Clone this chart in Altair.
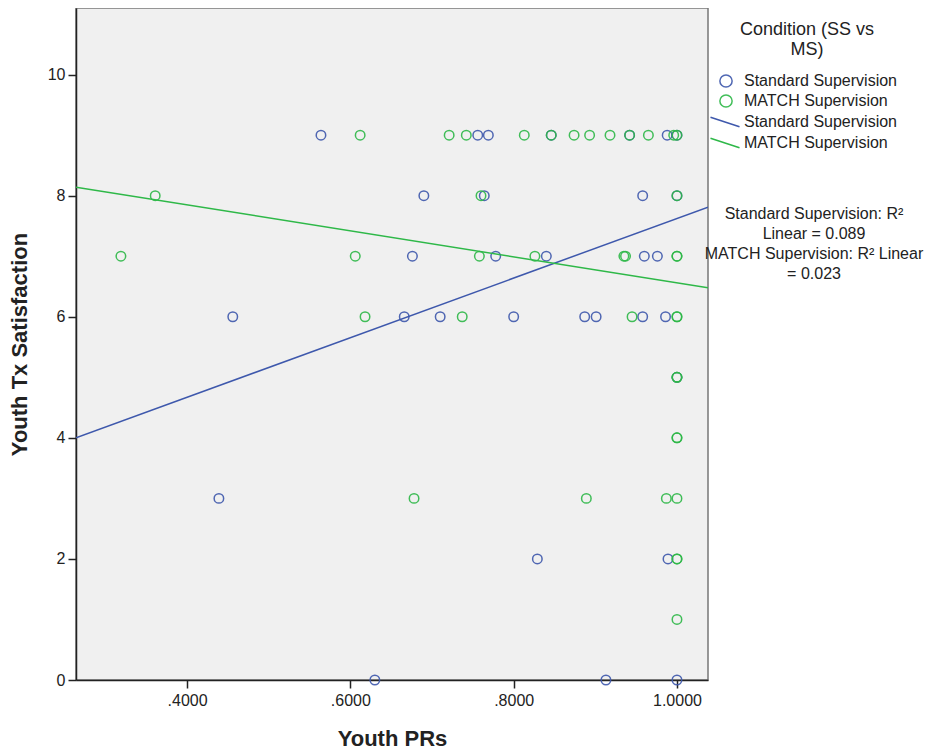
import altair as alt
import pandas as pd

# ---- data ----
groups = ["Standard Supervision", "MATCH Supervision"]
colors = ["#3E58AC", "#2EB848"]

ss_x = [0.564, 0.756, 0.769, 0.846, 0.942, 0.988, 1.0,
        0.690, 0.764, 0.958, 1.0,
        0.676, 0.778, 0.840, 0.960, 0.976,
        0.456, 0.666, 0.710, 0.800, 0.887, 0.901, 0.958, 0.986,
        1.0,
        0.439,
        0.829, 0.989,
        0.630, 0.913, 1.0]
ss_y = [9, 9, 9, 9, 9, 9, 9,
        8, 8, 8, 8,
        7, 7, 7, 7, 7,
        6, 6, 6, 6, 6, 6, 6, 6,
        5,
        3,
        2, 2,
        0, 0, 0]

ms_x = [0.612, 0.721, 0.742, 0.813, 0.846, 0.874, 0.893, 0.918, 0.942, 0.965, 0.996, 1.0,
        0.361, 0.760, 1.0,
        0.319, 0.606, 0.758, 0.826, 0.935, 0.937, 1.0, 1.0,
        0.618, 0.737, 0.945, 1.0, 1.0,
        1.0, 1.0,
        1.0, 1.0,
        0.678, 0.889, 0.987, 1.0,
        1.0, 1.0,
        1.0]
ms_y = [9, 9, 9, 9, 9, 9, 9, 9, 9, 9, 9, 9,
        8, 8, 8,
        7, 7, 7, 7, 7, 7, 7, 7,
        6, 6, 6, 6, 6,
        5, 5,
        4, 4,
        3, 3, 3, 3,
        2, 2,
        1]

# fitted linear lines (endpoints at the x-range limits)
fit_x = [0.264, 1.038]
ss_fit_y = [4.00, 7.81]
ms_fit_y = [8.14, 6.48]

r2_lines = ["Standard Supervision: R\u00b2", "Linear = 0.089",
            "MATCH Supervision: R\u00b2 Linear", "= 0.023"]

x_ticks = [0.4, 0.6, 0.8, 1.0]
y_ticks = [0, 2, 4, 6, 8, 10]
x_domain = [0.264, 1.038]
y_domain = [0, 11.1]

# ---- tables ----
pts = pd.DataFrame({
    "x": ss_x + ms_x,
    "y": ss_y + ms_y,
    "group": [groups[0]] * len(ss_x) + [groups[1]] * len(ms_x),
})
fits = pd.DataFrame({
    "x": fit_x + fit_x,
    "y": ss_fit_y + ms_fit_y,
    "fit": [groups[0]] * 2 + [groups[1]] * 2,
})
r2 = pd.DataFrame({"t": ["\n".join(r2_lines)]})

FONT = "Liberation Sans"
W, H = 632, 672

xenc = alt.X("x:Q", scale=alt.Scale(domain=x_domain, nice=False, zero=False),
             axis=alt.Axis(values=x_ticks, title="Youth PRs",
                           labelExpr="datum.value < 1 ? substring(format(datum.value, '.4f'), 1) : format(datum.value, '.4f')",
                           labelPadding=4, titlePadding=20))
yenc = alt.Y("y:Q", scale=alt.Scale(domain=y_domain, nice=False, zero=True),
             axis=alt.Axis(values=y_ticks, title="Youth Tx Satisfaction", format="d",
                           labelPadding=3, titlePadding=16))

points = alt.Chart(pts).mark_point(shape="circle", filled=False, size=90,
                                   strokeWidth=1.5, opacity=0.9).encode(
    x=xenc, y=yenc,
    color=alt.Color("group:N", scale=alt.Scale(domain=groups, range=colors),
                    legend=alt.Legend(title=["Condition (SS vs", "MS)"],
                                      orient="none", legendX=642, legendY=13,
                                      titleAnchor="middle", titleAlign="center",
                                      titleFontSize=18, titleFontWeight="normal",
                                      titleLineHeight=20, titleColor="#222",
                                      titlePadding=14, titleLimit=400,
                                      labelFontSize=16, labelColor="#222", labelLimit=400,
                                      symbolSize=150, symbolStrokeWidth=1.5,
                                      labelOffset=10, rowPadding=0)),
)

lines = alt.Chart(fits).mark_line(strokeWidth=1.5, clip=True).encode(
    x=alt.X("x:Q"), y=alt.Y("y:Q"),
    stroke=alt.Stroke("fit:N", scale=alt.Scale(domain=groups, range=colors),
                      legend=alt.Legend(title=None, orient="none", legendX=641, legendY=106,
                                        symbolType="M-2,-0.66L2,0.66", symbolSize=210,
                                        symbolStrokeWidth=1.5,
                                        labelFontSize=16, labelColor="#222", labelLimit=400,
                                        labelOffset=11, rowPadding=5)),
)

text = alt.Chart(r2).mark_text(lineBreak="\n", align="center", baseline="middle",
                               fontSize=16, lineHeight=20, color="#222", font=FONT).encode(
    text="t:N", x=alt.value(738), y=alt.value(206))

chart = alt.layer(points, lines, text).properties(
    width=W, height=H,
    padding={"left": 0, "top": 0, "right": 0, "bottom": 0},
).configure(font=FONT).configure_view(
    fill="#F0F0F0", stroke="#777777", strokeWidth=1.5
).configure_axis(
    grid=False, domainColor="#222", domainWidth=1.5, tickColor="#222", tickWidth=1.5,
    tickSize=8, labelFontSize=16, labelColor="#222", titleFontSize=22,
    titleFontWeight="bold", titleColor="#222", labelFont=FONT, titleFont=FONT,
).resolve_scale(color="independent")

chart.save("out.html", embed_options={"renderer": "svg", "actions": False})
